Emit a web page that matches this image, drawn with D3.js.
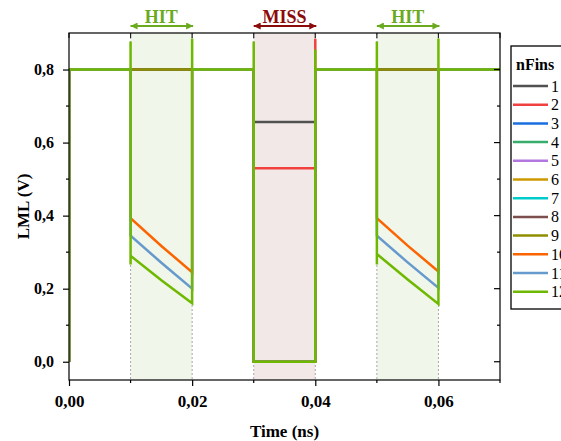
<!DOCTYPE html>
<html>
<head>
<meta charset="utf-8">
<script src="https://cdn.jsdelivr.net/npm/d3@7"></script>
<style>
  html, body { margin: 0; padding: 0; background: #fff; }
  svg { display: block; }
  text { font-family: "Liberation Serif", "Times New Roman", serif; }
</style>
</head>
<body>
<svg id="chart" width="561" height="441"></svg>
<script>
// ---- data ----
const seriesNames = ["1", "2", "3", "4", "5", "6", "7", "8", "9", "10", "11", "12"];
const seriesColors = ["#515151", "#F14040", "#1A6FDF", "#37AD6B", "#B177DE", "#CC9900",
                      "#00CBCC", "#7D4E4E", "#8E8E00", "#FB6501", "#6699CC", "#6FB802"];
const idleLevel = 0.8;
// read windows (ns): start, middle, end
const hitWindow1 = [0.01, 0.015, 0.02];
const missWindow = [0.03, 0.04];
const hitWindow2 = [0.05, 0.055, 0.06];
const endTime = 0.07;
// LML level while the MISS window is open
const missLevel = [0.656, 0.53, 0, 0, 0, 0, 0, 0, 0, 0, 0, 0];
// LML discharge during HIT windows (start, middle, end); null = stays idle
const hit1Level = [null, null, null, null, null, null, null, null, null,
                   [0.393, 0.317, 0.245], [0.345, 0.271, 0.200], [0.290, 0.223, 0.160]];
const hit2Level = [null, null, null, null, null, null, null, null, null,
                   [0.393, 0.318, 0.247], [0.345, 0.272, 0.202], [0.295, 0.225, 0.158]];
// switching overshoot for nFins = 12: [hit start, hit dip, hit end, miss start, miss end]
const overshoot12 = [0.877, 0.266, 0.885, 0.877, 0.855];
const overshoot2MissEnd = 0.884;
const xTicks = [0, 0.02, 0.04, 0.06];
const yTicks = [0, 0.2, 0.4, 0.6, 0.8];
const xMinor = [0.01, 0.03, 0.05, 0.07];
const yMinor = [0.1, 0.3, 0.5, 0.7];
const bands = [
  { label: "HIT",  range: [0.01, 0.02], fill: "#F0F6EA", color: "#6AAA1E" },
  { label: "MISS", range: [0.03, 0.04], fill: "#F3E8E8", color: "#8B0A0A" },
  { label: "HIT",  range: [0.05, 0.06], fill: "#F0F6EA", color: "#6AAA1E" }
];

// ---- build traces ----
function buildTrace(i) {
  const is12 = i === 11;
  const pts = [[0, 0], [0, idleLevel]];
  const hit = (w, lv) => {
    if (!lv) return;
    pts.push([w[0], idleLevel]);
    if (is12) pts.push([w[0], overshoot12[0]], [w[0], overshoot12[1]]);
    pts.push([w[0], lv[0]], [w[1], lv[1]], [w[2], lv[2]]);
    if (is12) pts.push([w[2], overshoot12[2]]);
    pts.push([w[2], idleLevel]);
  };
  hit(hitWindow1, hit1Level[i]);
  pts.push([missWindow[0], idleLevel]);
  if (is12) pts.push([missWindow[0], overshoot12[3]]);
  pts.push([missWindow[0], missLevel[i]], [missWindow[1], missLevel[i]]);
  if (is12) pts.push([missWindow[1], overshoot12[4]]);
  if (i === 1) pts.push([missWindow[1], overshoot2MissEnd]);
  pts.push([missWindow[1], idleLevel]);
  hit(hitWindow2, hit2Level[i]);
  pts.push([endTime, idleLevel]);
  return pts;
}
const traces = seriesNames.map((n, i) => ({ name: n, color: seriesColors[i], points: buildTrace(i) }));

// ---- layout ----
const svg = d3.select("#chart");
const pL = 69, pR = 500, pT = 33, pB = 380;
const x = d3.scaleLinear().domain([0, 0.07]).range([pL, pR]);
const y = d3.scaleLinear().domain([-0.05, 0.9]).range([pB, pT]);
const fmt = (d, dec) => d.toFixed(dec).replace(".", ",");

const defs = svg.append("defs");
defs.append("clipPath").attr("id", "plotClip")
  .append("rect").attr("x", pL).attr("y", pT - 1).attr("width", pR - pL).attr("height", pB - pT + 1);

// shaded windows
svg.append("g").selectAll("rect").data(bands).join("rect")
  .attr("x", d => x(d.range[0])).attr("y", pT)
  .attr("width", d => x(d.range[1]) - x(d.range[0])).attr("height", pB - pT)
  .attr("fill", d => d.fill);

// window edge guides
const edges = bands.flatMap(b => b.range);
svg.append("g").selectAll("line").data(edges).join("line")
  .attr("x1", d => x(d)).attr("x2", d => x(d)).attr("y1", pT).attr("y2", pB)
  .attr("stroke", "#a8a8a8").attr("stroke-width", 1).attr("stroke-dasharray", "2,2");

// traces
const line = d3.line().x(d => x(d[0])).y(d => y(d[1]));
svg.append("g").attr("clip-path", "url(#plotClip)")
  .selectAll("path").data(traces).join("path")
  .attr("d", d => line(d.points))
  .attr("fill", "none").attr("stroke", d => d.color)
  .attr("stroke-width", 2.5).attr("stroke-linejoin", "miter");

// axes
const bottomAxis = d3.axisBottom(x).tickValues(xTicks).tickFormat(d => fmt(d, 2)).tickSize(6).tickPadding(9);
const gx = svg.append("g").attr("transform", `translate(0,${pB})`).call(bottomAxis);
const leftAxis = d3.axisLeft(y).tickValues(yTicks).tickFormat(d => fmt(d, 1)).tickSize(6).tickPadding(9);
const gy = svg.append("g").attr("transform", `translate(${pL},0)`).call(leftAxis);
[gx, gy].forEach(g => {
  g.select(".domain").remove();
  g.selectAll("line").attr("stroke", "#000").attr("stroke-width", 1.2);
  g.selectAll("text").attr("font-family", "Liberation Serif, serif")
    .attr("font-weight", "bold").attr("fill", "#000");
});
gx.selectAll("text").attr("font-size", 17);
gy.selectAll("text").attr("font-size", 16);
// minor ticks
svg.append("g").selectAll("line").data(xMinor).join("line")
  .attr("x1", d => x(d)).attr("x2", d => x(d)).attr("y1", pB).attr("y2", pB + 3)
  .attr("stroke", "#000").attr("stroke-width", 1.2);
svg.append("g").selectAll("line").data(yMinor).join("line")
  .attr("x1", pL - 3).attr("x2", pL).attr("y1", d => y(d)).attr("y2", d => y(d))
  .attr("stroke", "#000").attr("stroke-width", 1.2);
// mirrored ticks on right (inward) and top (inward)
svg.append("g").selectAll("line").data(yTicks.concat(yMinor)).join("line")
  .attr("x1", d => pR - (yTicks.includes(d) ? 6 : 3)).attr("x2", pR)
  .attr("y1", d => y(d)).attr("y2", d => y(d))
  .attr("stroke", "#000").attr("stroke-width", 1.2);
svg.append("g").selectAll("line").data(xTicks.concat(xMinor)).join("line")
  .attr("x1", d => x(d)).attr("x2", d => x(d))
  .attr("y1", pT).attr("y2", pT + 5)
  .attr("stroke", "#222").attr("stroke-width", 1.2);
// frame
svg.append("rect").attr("x", pL).attr("y", pT).attr("width", pR - pL).attr("height", pB - pT)
  .attr("fill", "none").attr("stroke", "#000").attr("stroke-width", 1.2);

// axis titles
svg.append("text").attr("x", (pL + pR) / 2).attr("y", 437).attr("text-anchor", "middle")
  .attr("font-weight", "bold").attr("font-size", 17).text("Time (ns)");
svg.append("text").attr("transform", `translate(29,${(pT + pB) / 2}) rotate(-90)`)
  .attr("text-anchor", "middle").attr("font-weight", "bold").attr("font-size", 17).text("LML (V)");

// window labels with double-headed arrows
bands.forEach((b, k) => {
  ["s", "e"].forEach(side => {
    defs.append("marker").attr("id", `arr${side}${k}`)
      .attr("viewBox", "0 0 10 10").attr("refX", 10).attr("refY", 5)
      .attr("markerWidth", 9).attr("markerHeight", 7).attr("markerUnits", "userSpaceOnUse")
      .attr("orient", side === "s" ? "auto-start-reverse" : "auto")
      .append("path").attr("d", "M0,0 L10,5 L0,10 Z").attr("fill", b.color);
  });
});
const lab = svg.append("g").selectAll("g").data(bands).join("g");
lab.append("line")
  .attr("x1", d => x(d.range[0])).attr("x2", d => x(d.range[1]) + 1)
  .attr("y1", 26).attr("y2", 26)
  .attr("stroke", d => d.color).attr("stroke-width", 2)
  .attr("marker-start", (d, k) => `url(#arrs${k})`)
  .attr("marker-end", (d, k) => `url(#arre${k})`);
lab.append("text")
  .attr("x", d => (x(d.range[0]) + x(d.range[1])) / 2).attr("y", 23)
  .attr("text-anchor", "middle").attr("font-weight", "bold").attr("font-size", 18)
  .attr("fill", d => d.color).text(d => d.label);

// legend
const lg = svg.append("g");
lg.append("rect").attr("x", 511).attr("y", 46).attr("width", 80).attr("height", 263)
  .attr("fill", "#fff").attr("stroke", "#000").attr("stroke-width", 1.3);
lg.append("text").attr("x", 516).attr("y", 70).attr("font-weight", "bold").attr("font-size", 16).text("nFins");
const item = lg.selectAll("g.item").data(traces).join("g").attr("class", "item")
  .attr("transform", (d, i) => `translate(0,${86 + i * 18.7})`);
item.append("line").attr("x1", 513).attr("x2", 548).attr("y1", 0).attr("y2", 0)
  .attr("stroke", d => d.color).attr("stroke-width", 2.5);
item.append("text").attr("x", 551).attr("y", 5.5).attr("font-size", 16).text(d => d.name);
</script>
</body>
</html>
